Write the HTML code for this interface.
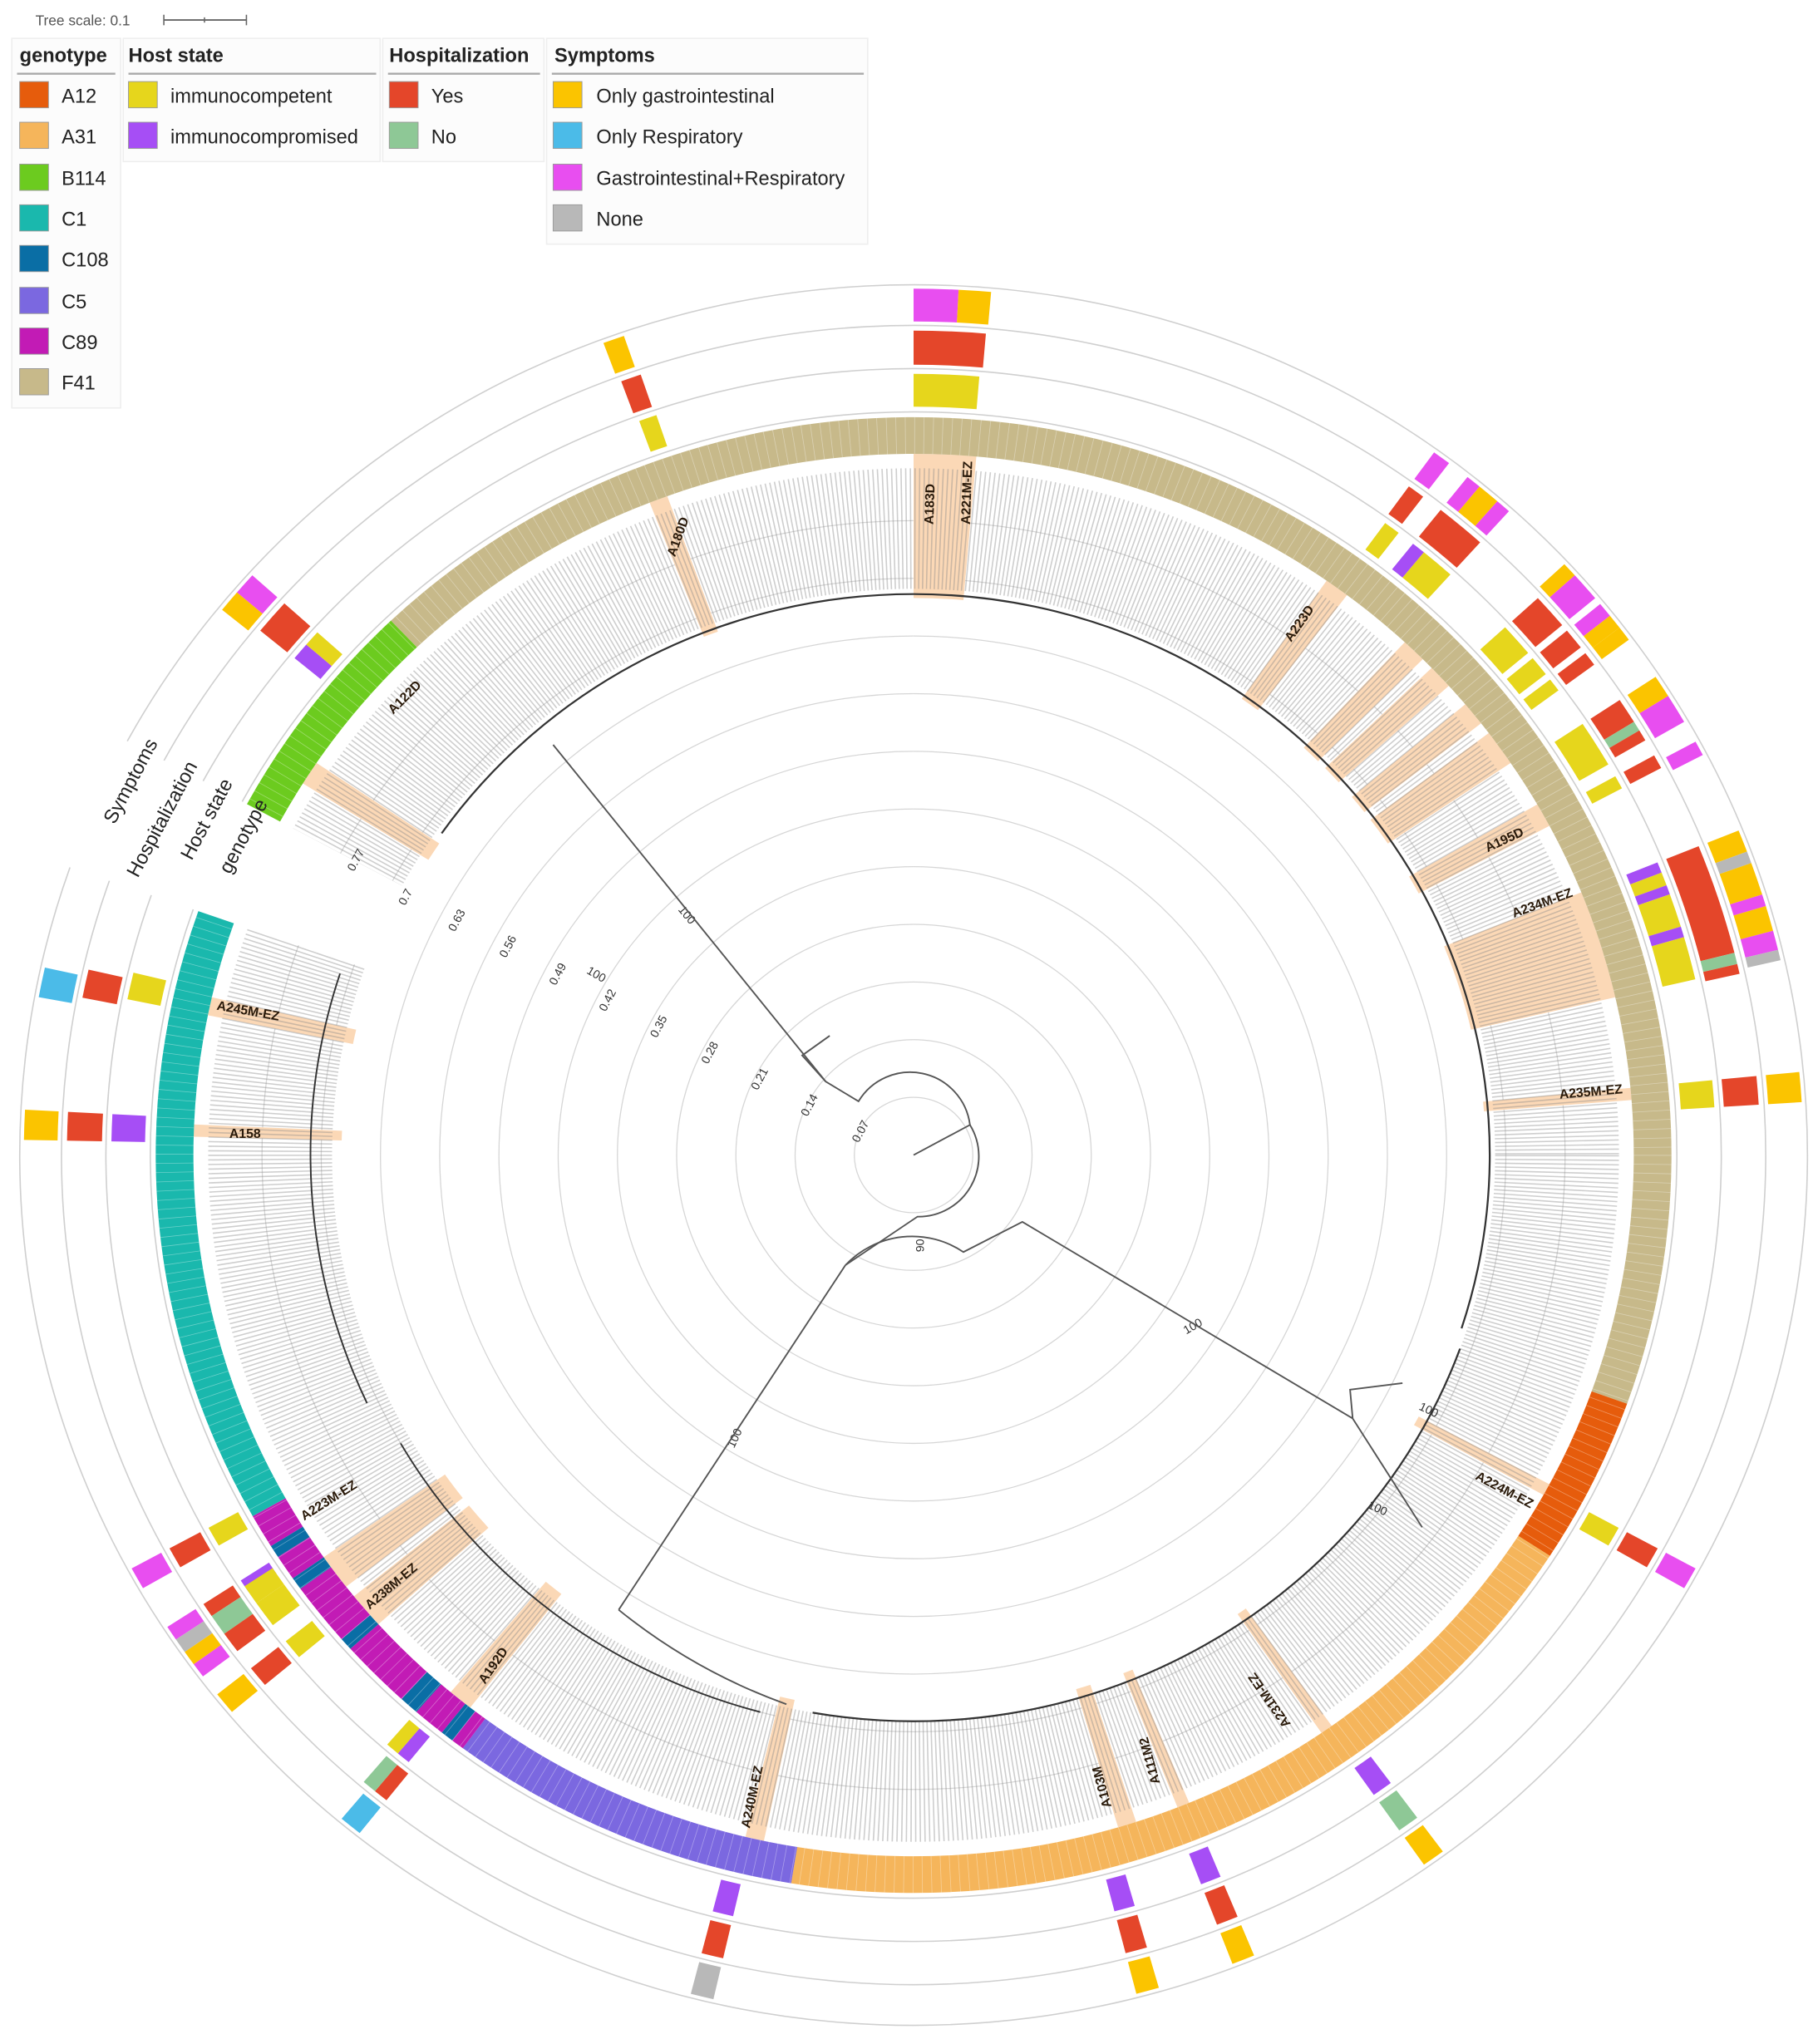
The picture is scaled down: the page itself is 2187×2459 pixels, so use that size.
<!DOCTYPE html>
<html><head><meta charset="utf-8">
<style>
html,body{margin:0;padding:0;background:#fff;}
svg{display:block;font-family:"Liberation Sans",sans-serif;}
</style></head><body>
<svg id="s" width="2187" height="2459" viewBox="0 0 1387 1559" xmlns="http://www.w3.org/2000/svg">
<rect width="1387" height="1559" fill="#fff"/>
<text x="27" y="19" font-size="11" fill="#555">Tree scale: 0.1</text>
<line x1="125" y1="15" x2="188" y2="15" stroke="#666" stroke-width="1.2"/>
<line x1="125" y1="11" x2="125" y2="19" stroke="#666"/><line x1="188" y1="11" x2="188" y2="19" stroke="#666"/><line x1="156" y1="13" x2="156" y2="17" stroke="#666"/>
<g font-size="15" fill="#222">
<rect x="9" y="29" width="83" height="282" fill="#fcfcfc" stroke="#eee"/>
<rect x="94" y="29" width="196" height="94" fill="#fcfcfc" stroke="#eee"/>
<rect x="292" y="29" width="123" height="94" fill="#fcfcfc" stroke="#eee"/>
<rect x="417" y="29" width="245" height="157" fill="#fcfcfc" stroke="#eee"/>
<g font-weight="bold"><text x="15" y="47">genotype</text><text x="98" y="47">Host state</text><text x="297" y="47">Hospitalization</text><text x="423" y="47">Symptoms</text></g>
<g stroke="#aaa" stroke-width="1.5"><line x1="13" y1="56" x2="88" y2="56"/><line x1="98" y1="56" x2="287" y2="56"/><line x1="296" y1="56" x2="412" y2="56"/><line x1="421" y1="56" x2="659" y2="56"/></g>
<g stroke="#999" stroke-width="0.6">
<rect x="15" y="62" width="22" height="20" fill="#e65c0c"/><rect x="15" y="93" width="22" height="20" fill="#f5b55b"/><rect x="15" y="125" width="22" height="20" fill="#6ccb1f"/><rect x="15" y="156" width="22" height="20" fill="#1ab8ad"/><rect x="15" y="187" width="22" height="20" fill="#0a6ea5"/><rect x="15" y="219" width="22" height="20" fill="#7b68e0"/><rect x="15" y="250" width="22" height="20" fill="#c21bb5"/><rect x="15" y="281" width="22" height="20" fill="#c7b98a"/>
<rect x="98" y="62" width="22" height="20" fill="#e6d61c"/><rect x="98" y="93" width="22" height="20" fill="#a64ef5"/>
<rect x="297" y="62" width="22" height="20" fill="#e4462a"/><rect x="297" y="93" width="22" height="20" fill="#8ec896"/>
<rect x="422" y="62" width="22" height="20" fill="#fbc400"/><rect x="422" y="93" width="22" height="20" fill="#4bbbe8"/><rect x="422" y="125" width="22" height="20" fill="#e84ef0"/><rect x="422" y="156" width="22" height="20" fill="#b8b8b8"/>
</g>
<text x="47" y="78">A12</text><text x="47" y="109">A31</text><text x="47" y="141">B114</text><text x="47" y="172">C1</text><text x="47" y="203">C108</text><text x="47" y="235">C5</text><text x="47" y="266">C89</text><text x="47" y="297">F41</text>
<text x="130" y="78">immunocompetent</text><text x="130" y="109">immunocompromised</text>
<text x="329" y="78">Yes</text><text x="329" y="109">No</text>
<text x="455" y="78">Only gastrointestinal</text><text x="455" y="109">Only Respiratory</text><text x="455" y="141">Gastrointestinal+Respiratory</text><text x="455" y="172">None</text>
</g>
<g id="g" transform="translate(697,881) scale(1.027,1)"></g>
<g font-size="15" fill="#222">
<text transform="translate(190,640) rotate(-62)" text-anchor="middle">genotype</text>
<text transform="translate(162,627) rotate(-62)" text-anchor="middle">Host state</text>
<text transform="translate(128,627) rotate(-62)" text-anchor="middle">Hospitalization</text>
<text transform="translate(104,598) rotate(-62)" text-anchor="middle">Symptoms</text>
</g>
<g font-size="9" fill="#333">
<text transform="translate(655,872) rotate(-62)">0.07</text>
<text transform="translate(616,852) rotate(-62)">0.14</text>
<text transform="translate(578,832) rotate(-62)">0.21</text>
<text transform="translate(540,812) rotate(-62)">0.28</text>
<text transform="translate(501,792) rotate(-62)">0.35</text>
<text transform="translate(462,772) rotate(-62)">0.42</text>
<text transform="translate(424,752) rotate(-62)">0.49</text>
<text transform="translate(386,731) rotate(-62)">0.56</text>
<text transform="translate(347,711) rotate(-62)">0.63</text>
<text transform="translate(309,691) rotate(-62)">0.7</text>
<text transform="translate(270,665) rotate(-62)">0.77</text>
<text x="517" y="694" transform="rotate(50 517 694)">100</text>
<text x="905" y="1018" transform="rotate(-30 905 1018)">100</text>
<text x="560" y="1105" transform="rotate(-65 560 1105)">100</text>
<text x="705" y="955" transform="rotate(-90 705 955)">90</text>
<text x="1082" y="1075" transform="rotate(25 1082 1075)">100</text>
<text x="1043" y="1150" transform="rotate(25 1043 1150)">100</text>
<text x="447" y="742" transform="rotate(30 447 742)">100</text>
</g>
<g fill="#2a1a0a" font-size="10" font-weight="bold">
<text transform="translate(165,770) rotate(10)">A245M-EZ</text>
<text transform="translate(175,868)">A158</text>
<text transform="translate(1190,838) rotate(-5)">A235M-EZ</text>
<text transform="translate(1125,1128) rotate(28)">A224M-EZ</text>
<text transform="translate(232,1160) rotate(-32)">A223M-EZ</text>
<text transform="translate(282,1228) rotate(-40)">A238M-EZ</text>
<text transform="translate(572,1395) rotate(-78)">A240M-EZ</text>
<text transform="translate(370,1285) rotate(-55)">A192D</text>
<text transform="translate(848,1378) rotate(-105)">A103M</text>
<text transform="translate(885,1360) rotate(-105)">A111M2</text>
<text transform="translate(985,1315) rotate(-125)">A231M-EZ</text>
<text transform="translate(1135,650) rotate(-25)">A195D</text>
<text transform="translate(1155,700) rotate(-20)">A234M-EZ</text>
<text transform="translate(985,490) rotate(-55)">A223D</text>
<text transform="translate(515,425) rotate(-70)">A180D</text>
<text transform="translate(300,545) rotate(-45)">A122D</text>
<text transform="translate(712,400) rotate(-88)">A183D</text>
<text transform="translate(740,400) rotate(-88)">A221M-EZ</text>
</g>
<script>
var g=document.getElementById('g'),NS='http://www.w3.org/2000/svg';
function P(r,t){t=t*Math.PI/180;return [r*Math.sin(t),-r*Math.cos(t)];}
function band(t1,t2,r1,r2,c,op){var a=P(r2,t1),b=P(r2,t2),d=P(r1,t2),e=P(r1,t1),L=(t2-t1)>180?1:0;
var p=document.createElementNS(NS,'path');p.setAttribute('d','M'+a+' A'+r2+' '+r2+' 0 '+L+' 1 '+b+' L'+d+' A'+r1+' '+r1+' 0 '+L+' 0 '+e+'Z');p.setAttribute('fill',c);if(op)p.setAttribute('opacity',op);g.appendChild(p);}
function arc(t1,t2,r,c,w){var a=P(r,t1),b=P(r,t2),L=(t2-t1)>180?1:0;var p=document.createElementNS(NS,'path');p.setAttribute('d','M'+a+' A'+r+' '+r+' 0 '+L+' 1 '+b);p.setAttribute('fill','none');p.setAttribute('stroke',c);p.setAttribute('stroke-width',w);g.appendChild(p);}
for(var k=1;k<=11;k++){arc(0,359.99,44*k,'#d6d6d6',0.8);}
var H=[[0,5],[338.5,340],[302,304],[35,37],[43,45],[46,48],[50,52],[53,56],[60,62],[68,77],[84.5,85.5],[118,119],[144.5,145.5],[157.5,158.5],[162,163.5],[192,193.5],[218,220],[228,231],[232,235],[281.5,283],[271.5,272.5]];
H.forEach(function(h){band(h[0],h[1],425,535,'#fbd8b6');});
var tx=document.createElementNS(NS,'circle');tx.setAttribute('r',478);tx.setAttribute('fill','none');tx.setAttribute('stroke','#8a8a8a');tx.setAttribute('stroke-width',92);tx.setAttribute('stroke-dasharray','1 2.2');tx.setAttribute('opacity','0.42');g.appendChild(tx);
band(289.3,298.4,420,540,'#fff');
arc(305,360,428,'#333',1.4);arc(0,108,428,'#333',1.4);arc(110,190,432,'#333',1.4);arc(195,240,440,'#333',1.2);arc(245,288,448,'#333',1.2);
var G=[[298.4,316.4,'#6ccb1f'],[316.4,469.7,'#c7b98a'],[109.7,122.9,'#e65c0c'],[122.9,189.3,'#f5b55b'],[189.3,216.5,'#7b68e0'],
[216.5,217.5,'#c21bb5'],[217.5,218.5,'#0a6ea5'],[218.5,221,'#c21bb5'],[221,222.5,'#0a6ea5'],[222.5,228,'#c21bb5'],[228,229,'#0a6ea5'],[229,234,'#c21bb5'],[234,235,'#0a6ea5'],[235,237,'#c21bb5'],[237,238,'#0a6ea5'],[238,240.7,'#c21bb5'],[240.7,289.3,'#1ab8ad']];
G.forEach(function(s){band(s[0],s[1],535,563,s[2]);});
var st=document.createElementNS(NS,'circle');st.setAttribute('r',549);st.setAttribute('fill','none');st.setAttribute('stroke','#fff');st.setAttribute('stroke-width',28);st.setAttribute('stroke-dasharray','0.5 6.4');st.setAttribute('opacity','0.35');g.appendChild(st);
[567,600,633,664].forEach(function(r){arc(298.4,289.3+360,r,'#cfcfcf',1);});
var Y='#e6d61c',PU='#a64ef5',R='#e4462a',GN='#8ec896',O='#fbc400',B='#4bbbe8',M='#e84ef0',GR='#b8b8b8';
var rings={h:[571,596],p:[603,629],s:[636,661]};
var D=[[0,2.9,'s',M],[2.9,5,'s',O],[0,4.9,'p',R],[0,4.7,'h',Y],
[339.6,341,'s',O],[339.8,341.2,'p',R],[340,341.3,'h',Y],
[309,310.5,'s',O],[310.5,312,'s',M],[309.5,312,'p',R],[309.5,310.8,'h',PU],[310.8,312,'h',Y],
[280.5,282.5,'s',B],[281,283,'p',R],[281.5,283.5,'h',Y],
[271,273,'s',O],[271,273,'p',R],[271,273,'h',PU],
[240,241.5,'s',M],[236,237,'s',M],[235,236,'s',GR],[234,235,'s',O],[233,234,'s',M],
[240,241.5,'p',R],[236,237,'p',R],[234.5,236,'p',GN],[233,234.5,'p',R],
[240,241.5,'h',Y],[236,237,'h',PU],[235,236.5,'h',Y],[233,235,'h',Y],
[230,231.5,'s',O],[230,231.5,'p',R],[230,231.5,'h',Y],
[218.5,220,'s',B],[218.5,219.5,'p',R],[219.5,220.5,'p',GN],[219,220,'h',PU],[220,221,'h',Y],
[193,194.5,'s',GR],[193,194.5,'p',R],[193,194.5,'h',PU],
[164,165.5,'s',O],[164,165.5,'p',R],[164,165.5,'h',PU],
[157.5,159,'s',O],[157.5,159,'p',R],[157.5,159,'h',PU],
[143.5,145,'s',O],[143.5,145,'p',GN],[143.5,145,'h',PU],
[118.5,120,'s',M],[118.5,120,'p',R],[118.5,120,'h',Y],
[84.5,86.5,'s',O],[84.5,86.5,'p',R],[84.5,86.5,'h',Y],
[35.8,37,'s',M],[35.8,37,'p',R],[36,37.2,'h',Y],
[38.5,39.5,'s',M],[39.5,41,'s',O],[41,42,'s',M],[38.5,42,'p',R],[38.5,39.5,'h',PU],[39.5,42,'h',Y],
[47,48,'s',O],[48,50,'s',M],[50.5,51.5,'s',M],[51.5,52.5,'s',O],[52.5,53.5,'s',O],
[47.5,50,'p',R],[50.5,52,'p',R],[52.5,53.5,'p',R],[47.5,50,'h',Y],[50.5,52,'h',Y],[52.5,53.5,'h',Y],
[56.5,58,'s',O],[58,60,'s',M],[56.5,58.3,'p',R],[58.3,59,'p',GN],[59,59.8,'p',R],[56.5,60,'h',Y],
[61.5,62.5,'s',M],[61,62,'p',R],[61,62,'h',Y],
[68,69.5,'s',O],[69.5,70.3,'s',GR],[70.3,72.5,'s',O],[72.5,73.3,'s',M],[73.3,75,'s',O],[75,76.3,'s',M],[76.3,77,'s',GR],
[68,75.8,'p',R],[75.8,76.6,'p',GN],[76.6,77.3,'p',R],
[68,68.8,'h',PU],[68.8,69.8,'h',Y],[69.8,70.5,'h',PU],[70.5,73,'h',Y],[73,73.8,'h',PU],[73.8,77,'h',Y]];
D.forEach(function(d){band(d[0],d[1],rings[d[2]][0],rings[d[2]][1],d[3]);});
</script>
<g stroke="#555" stroke-width="1.2" fill="none">
<path d="M697,881 L740,858 A46,46 0 0 0 655,840 L630,825"/>
<path d="M740,858 A46,46 0 0 1 700,928 L645,965"/>
<path d="M630,825 L422,568"/>
<path d="M630,825 L612,805 L633,790"/>
<path d="M645,965 L472,1228"/>
<path d="M645,965 A70,70 0 0 1 735,955 L780,932 L1032,1082"/>
<path d="M1032,1082 L1030,1060 L1070,1055"/>
<path d="M1032,1082 L1085,1165"/>
<path d="M472,1228 A440,440 0 0 0 600,1300"/>
</g>
</svg>
</body></html>
